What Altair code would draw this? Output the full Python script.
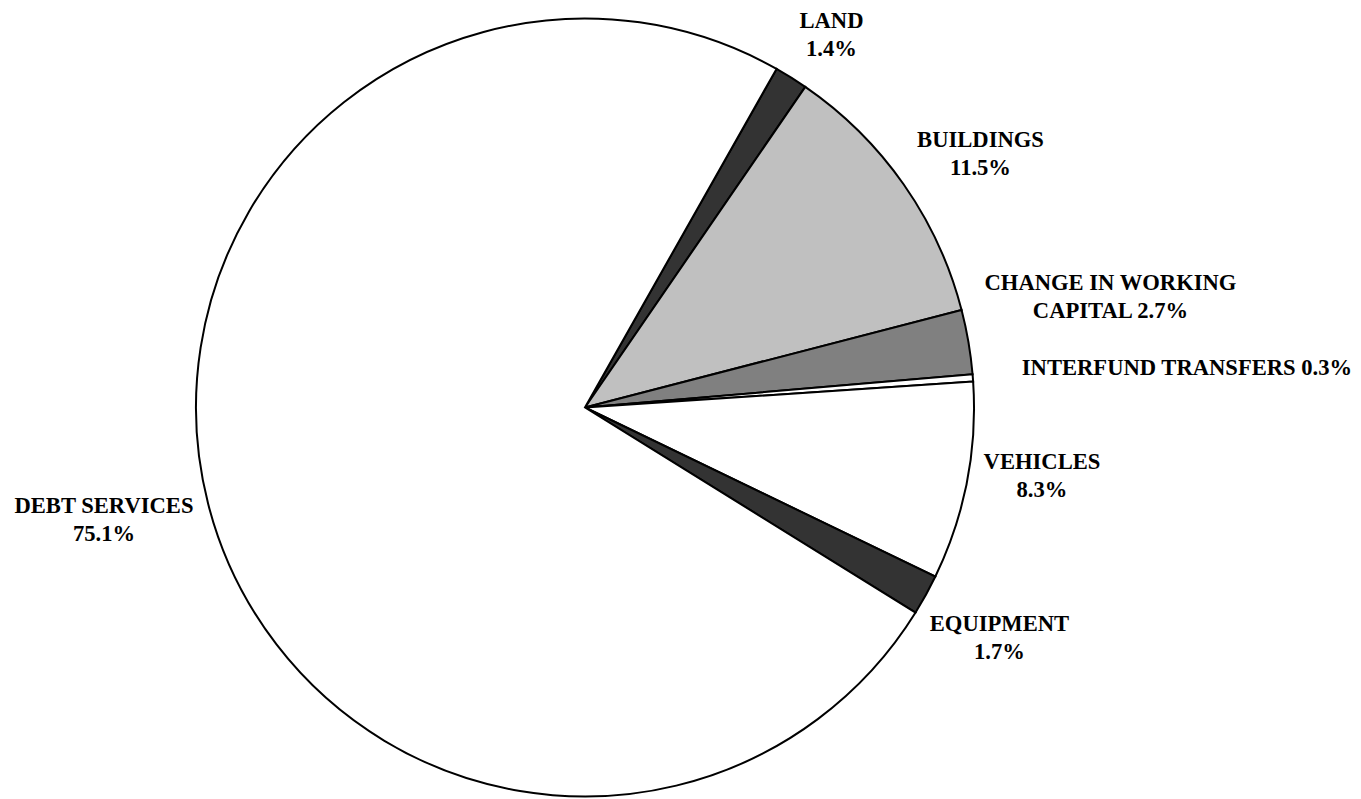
import math
import altair as alt
import pandas as pd

# ---- data ----
categories = ["LAND", "BUILDINGS", "CHANGE IN WORKING CAPITAL", "INTERFUND TRANSFERS",
              "VEHICLES", "EQUIPMENT", "DEBT SERVICES"]
shares = [1.4, 11.5, 2.7, 0.3, 8.3, 1.7, 75.1]
label_templates = ["LAND\n{}%", "BUILDINGS\n{}%", "CHANGE IN WORKING\nCAPITAL {}%",
                   "INTERFUND TRANSFERS {}%", "VEHICLES\n{}%", "EQUIPMENT\n{}%",
                   "DEBT SERVICES\n{}%"]

# ---- styling / layout ----
fills = ["#333333", "#C0C0C0", "#808080", "#FFFFFF", "#FFFFFF", "#333333", "#FFFFFF"]
label_radius = [458.5, 477.5, 540.0, 603.3, 460.2, 467.6, 491.0]
label_nudge_deg = [0.52, 0.94, -3.62, 0.56, -4.16, -1.20, 2.78]
start_angle_deg = 29.5
pie_radius = 389
center_x, center_y = 577, 399.5

total = sum(shares)
starts, ends = [], []
acc = 0.0
for v in shares:
    starts.append(acc)
    acc += v
    ends.append(acc)

df = pd.DataFrame({
    "category": categories,
    "share": shares,
    "start": starts,
    "end": ends,
    "label": [t.format(v) for t, v in zip(label_templates, shares)],
    "label_pos": [(s + e) / 2 + n * total / 360.0 for s, e, n in zip(starts, ends, label_nudge_deg)],
    "label_r": label_radius,
})

s_rad = math.radians(start_angle_deg)
theta_scale = alt.Scale(domain=[0, total], range=[s_rad, s_rad + 2 * math.pi])

base = alt.Chart(df)

arcs = base.mark_arc(outerRadius=pie_radius, stroke="black", strokeWidth=2).encode(
    theta=alt.Theta("start:Q", scale=theta_scale, stack=None),
    theta2="end:Q",
    color=alt.Color("category:N", scale=alt.Scale(domain=categories, range=fills), legend=None),
    x=alt.value(center_x),
    y=alt.value(center_y),
)

labels = base.mark_text(
    font="Liberation Serif", fontSize=22.6, fontWeight="bold", color="black",
    lineBreak="\n", lineHeight=28, align="center", baseline="middle",
).encode(
    theta=alt.Theta("label_pos:Q", scale=theta_scale, stack=None),
    radius=alt.Radius("label_r:Q", scale=alt.Scale(type="linear", domain=[0, 1000], range=[0, 1000])),
    text="label:N",
    x=alt.value(center_x),
    y=alt.value(center_y),
)

chart = alt.layer(arcs, labels).properties(
    width=1345, height=791, autosize="none", padding=0, background="white"
).configure_view(strokeWidth=0)

chart.save("out.html", embed_options={"renderer": "svg", "actions": False})
